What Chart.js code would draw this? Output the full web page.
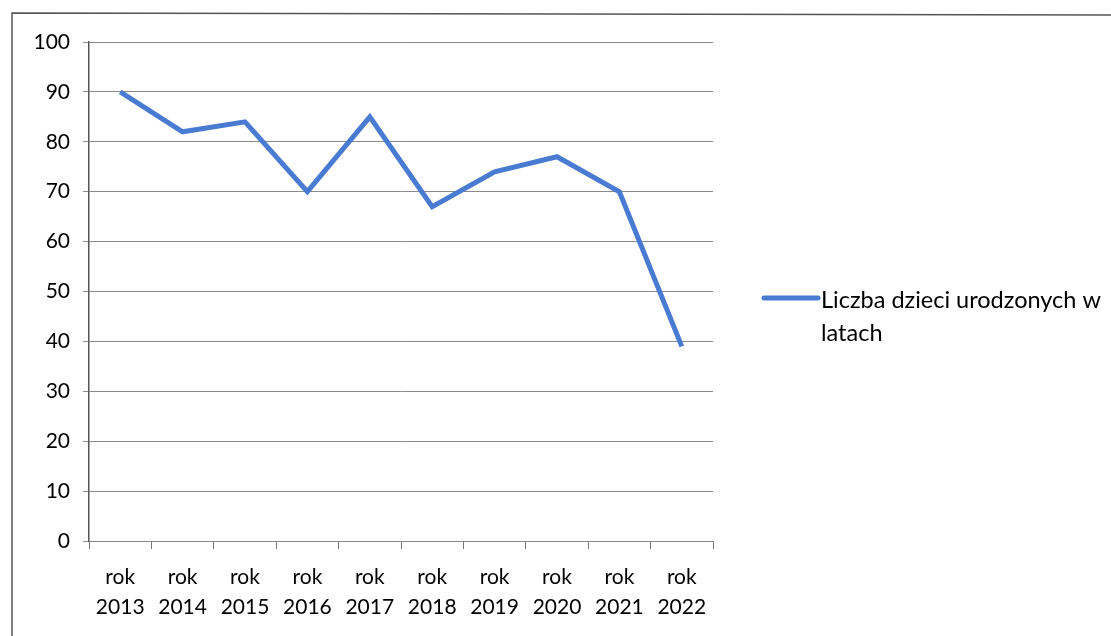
<!DOCTYPE html>
<html lang="pl">
<head>
    <meta charset="UTF-8">
    <title>Liczba dzieci urodzonych w latach</title>
    <script src="https://cdn.jsdelivr.net/npm/chart.js@4.4.1/dist/chart.umd.min.js"></script>
    <style>
      html, body { margin: 0; padding: 0; background: #fff; }
      #wrap { width: 1111px; height: 636px; }
    </style>
</head>
<body>
 <div id="wrap"><canvas id="myChart" width="1111" height="636"></canvas></div>
 <script>
    // dane
    const lata = ['2013', '2014', '2015', '2016', '2017', '2018', '2019', '2020', '2021', '2022'];
    const urodzenia = [90, 82, 84, 70, 85, 67, 74, 77, 70, 39];
    const yTicks = [0, 10, 20, 30, 40, 50, 60, 70, 80, 90, 100];
    const seriaNazwa = 'Liczba dzieci urodzonych w latach';

    const FONT = 'Lato, "Open Sans", sans-serif';
    const niebieski = '#4a7bd2';

    // ramka wykresu i legenda (z zawijaniem tekstu jak w Excelu)
    const ramka = {
      id: 'ramka',
      beforeDraw(chart) {
        const c = chart.ctx;
        c.save();
        c.strokeStyle = '#555';
        c.lineWidth = 1.5;
        c.beginPath();
        c.moveTo(12, 636);
        c.lineTo(12, 13);
        c.lineTo(1111, 15);
        c.stroke();
        c.restore();
      },
      afterDraw(chart) {
        const c = chart.ctx;
        const ds = chart.data.datasets[0];
        const x0 = 764, y0 = 298;
        c.save();
        c.strokeStyle = ds.borderColor;
        c.lineWidth = 5;
        c.lineCap = 'round';
        c.beginPath();
        c.moveTo(x0, y0);
        c.lineTo(x0 + 54, y0);
        c.stroke();
        c.fillStyle = '#000';
        c.font = '23.5px ' + FONT;
        c.textBaseline = 'middle';
        c.fillText('Liczba dzieci urodzonych w', x0 + 57, y0 + 2);
        c.fillText('latach', x0 + 57, y0 + 35);
        c.restore();
      }
    };

    const ctx = document.getElementById('myChart').getContext('2d');
    const myChart = new Chart(ctx, {
      type: 'line',
      data: {
        labels: lata.map(r => ['rok', r]),
        datasets: [{
          label: seriaNazwa,
          data: urodzenia,
          borderColor: niebieski,
          backgroundColor: niebieski,
          borderWidth: 5,
          pointRadius: 0,
          tension: 0,
          fill: false
        }]
      },
      options: {
        responsive: false,
        animation: false,
        layout: { padding: { left: 20, right: 398, top: 42, bottom: 12 } },
        plugins: {
          legend: { display: false },
          tooltip: { enabled: false }
        },
        scales: {
          x: {
            offset: true,
            grid: { offset: true, drawOnChartArea: false, drawTicks: true, tickLength: 8, color: '#777' },
            border: { display: true, color: '#888' },
            ticks: { color: '#000', font: { size: 21, family: FONT, lineHeight: 1.45 }, padding: 13, maxRotation: 0, autoSkip: false },
            afterFit(s) { s.height = 636 - 541 - 12; }
          },
          y: {
            min: 0,
            max: 100,
            afterBuildTicks(s) { s.ticks = yTicks.map(v => ({ value: v })); },
            grid: { color: '#8a8a8a', lineWidth: 1, tickLength: 6 },
            border: { display: true, color: '#555', width: 1.5 },
            ticks: { color: '#000', font: { size: 21, family: FONT }, padding: 13 },
            afterFit(s) { s.width = 89 - 20; }
          }
        }
      },
      plugins: [ramka]
    });
 </script>
</body>
</html>
